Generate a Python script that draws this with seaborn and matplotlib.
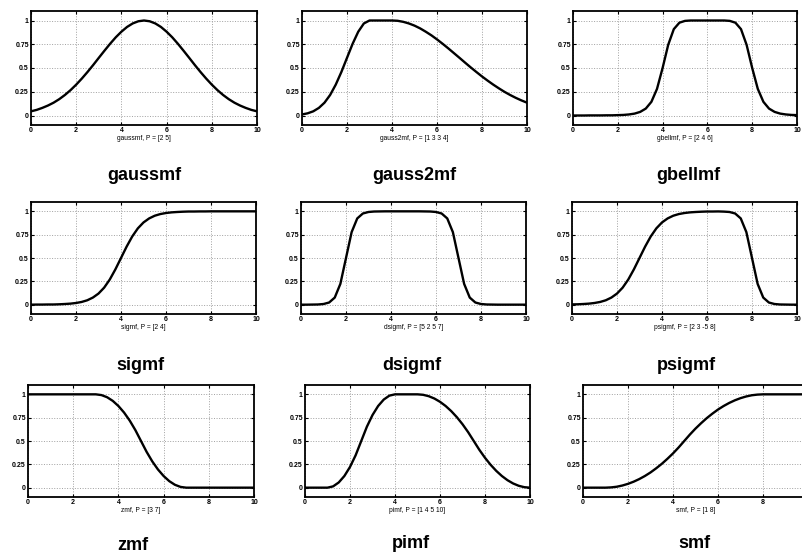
import matplotlib
matplotlib.use("Agg")
import matplotlib.pyplot as plt
import seaborn as sns
import pandas as pd

# sample positions
x_vals = [0.0, 0.25, 0.5, 0.75, 1.0, 1.25, 1.5, 1.75, 2.0, 2.25, 2.5, 2.75,
          3.0, 3.25, 3.5, 3.75, 4.0, 4.25, 4.5, 4.75, 5.0, 5.25, 5.5, 5.75,
          6.0, 6.25, 6.5, 6.75, 7.0, 7.25, 7.5, 7.75, 8.0, 8.25, 8.5, 8.75,
          9.0, 9.25, 9.5, 9.75, 10.0]

gaussmf = [0.044, 0.059, 0.080, 0.105, 0.135, 0.172, 0.216, 0.267, 0.325, 0.389,
           0.458, 0.531, 0.607, 0.682, 0.755, 0.823, 0.882, 0.932, 0.969, 0.992,
           1.000, 0.992, 0.969, 0.932, 0.882, 0.823, 0.755, 0.682, 0.607, 0.531,
           0.458, 0.389, 0.325, 0.267, 0.216, 0.172, 0.135, 0.105, 0.080, 0.059, 0.044]
gauss2mf = [0.011, 0.023, 0.044, 0.080, 0.135, 0.216, 0.325, 0.458, 0.607, 0.755,
            0.882, 0.969, 1.000, 1.000, 1.000, 1.000, 1.000, 0.997, 0.986, 0.969,
            0.946, 0.917, 0.882, 0.844, 0.801, 0.755, 0.707, 0.657, 0.607, 0.556,
            0.506, 0.458, 0.411, 0.367, 0.325, 0.286, 0.249, 0.216, 0.186, 0.159, 0.135]
gbellmf = [0.000, 0.000, 0.000, 0.001, 0.001, 0.001, 0.002, 0.002, 0.004, 0.006,
           0.011, 0.020, 0.038, 0.073, 0.144, 0.280, 0.500, 0.744, 0.909, 0.977,
           0.996, 1.000, 1.000, 1.000, 1.000, 1.000, 1.000, 1.000, 0.996, 0.977,
           0.909, 0.744, 0.500, 0.280, 0.144, 0.073, 0.038, 0.020, 0.011, 0.006, 0.004]
sigmf = [0.000, 0.001, 0.001, 0.002, 0.002, 0.004, 0.007, 0.011, 0.018, 0.029,
         0.047, 0.076, 0.119, 0.182, 0.269, 0.378, 0.500, 0.622, 0.731, 0.818,
         0.881, 0.924, 0.953, 0.971, 0.982, 0.989, 0.993, 0.996, 0.998, 0.998,
         0.999, 0.999, 1.000, 1.000, 1.000, 1.000, 1.000, 1.000, 1.000, 1.000, 1.000]
dsigmf = [0.000, 0.000, 0.001, 0.002, 0.007, 0.023, 0.076, 0.223, 0.500, 0.777,
          0.924, 0.977, 0.993, 0.998, 0.999, 1.000, 1.000, 1.000, 1.000, 1.000,
          1.000, 1.000, 0.999, 0.998, 0.993, 0.977, 0.924, 0.777, 0.500, 0.223,
          0.076, 0.023, 0.007, 0.002, 0.001, 0.000, 0.000, 0.000, 0.000, 0.000, 0.000]
psigmf = [0.003, 0.004, 0.007, 0.011, 0.018, 0.029, 0.047, 0.076, 0.119, 0.182,
          0.269, 0.378, 0.500, 0.622, 0.731, 0.818, 0.881, 0.924, 0.953, 0.971,
          0.982, 0.989, 0.993, 0.996, 0.998, 0.998, 0.999, 0.997, 0.993, 0.977,
          0.924, 0.777, 0.500, 0.223, 0.076, 0.023, 0.007, 0.002, 0.001, 0.000, 0.000]
zmf = [1.000, 1.000, 1.000, 1.000, 1.000, 1.000, 1.000, 1.000, 1.000, 1.000,
       1.000, 1.000, 1.000, 0.992, 0.969, 0.930, 0.875, 0.805, 0.719, 0.617,
       0.500, 0.383, 0.281, 0.195, 0.125, 0.070, 0.031, 0.008, 0.000, 0.000,
       0.000, 0.000, 0.000, 0.000, 0.000, 0.000, 0.000, 0.000, 0.000, 0.000, 0.000]
pimf = [0.000, 0.000, 0.000, 0.000, 0.000, 0.014, 0.056, 0.125, 0.222, 0.347,
        0.500, 0.653, 0.778, 0.875, 0.944, 0.986, 1.000, 1.000, 1.000, 1.000,
        1.000, 0.995, 0.980, 0.955, 0.920, 0.875, 0.820, 0.755, 0.680, 0.595,
        0.500, 0.405, 0.320, 0.245, 0.180, 0.125, 0.080, 0.045, 0.020, 0.005, 0.000]
smf = [0.000, 0.000, 0.000, 0.000, 0.000, 0.003, 0.010, 0.023, 0.041, 0.064,
       0.092, 0.125, 0.163, 0.207, 0.255, 0.309, 0.367, 0.431, 0.500, 0.569,
       0.633, 0.691, 0.745, 0.793, 0.837, 0.875, 0.908, 0.936, 0.959, 0.977,
       0.990, 0.997, 1.000, 1.000, 1.000, 1.000, 1.000, 1.000, 1.000, 1.000, 1.000]

names = ["gaussmf", "gauss2mf", "gbellmf", "sigmf", "dsigmf", "psigmf", "zmf", "pimf", "smf"]
params = ["[2 5]", "[1 3 3 4]", "[2 4 6]", "[2 4]", "[5 2 5 7]", "[2 3 -5 8]",
          "[3 7]", "[1 4 5 10]", "[1 8]"]
curves = [gaussmf, gauss2mf, gbellmf, sigmf, dsigmf, psigmf, zmf, pimf, smf]

x_ticks = [0, 2, 4, 6, 8, 10]
x_tick_labels = ["0", "2", "4", "6", "8", "10"]
y_ticks = [0, 0.25, 0.5, 0.75, 1]
y_tick_labels = ["0", "0.25", "0.5", "0.75", "1"]

sns.set_style("white")
plt.rcParams["font.family"] = ["Liberation Sans", "DejaVu Sans"]
plt.rcParams["text.color"] = "black"
plt.rcParams["axes.labelcolor"] = "black"
plt.rcParams["xtick.color"] = "black"
plt.rcParams["ytick.color"] = "black"

W, H = 803, 555
fig = plt.figure(figsize=(W / 100, H / 100), dpi=100)

# panel boxes in pixels: left, top, width, height
boxes = [
    (31, 11, 226, 114), (302, 11, 225, 114), (573, 11, 224, 114),
    (31, 202, 225, 112), (301, 202, 225, 112), (572, 202, 225, 112),
    (28, 385, 226, 112), (305, 385, 225, 112), (583, 385, 225, 112),
]
# big labels under each panel (pixel centres)
title_pos = [
    (144, 176), (414, 176), (688, 176),
    (140, 365), (412, 365), (686, 365),
    (133, 545), (411, 543), (694, 543),
]

for i, name in enumerate(names):
    l, t, w, h = boxes[i]
    ax = fig.add_axes([l / W, 1 - (t + h) / H, w / W, h / H])
    df = pd.DataFrame({"x": x_vals, "y": curves[i]})
    sns.lineplot(data=df, x="x", y="y", ax=ax, color="black", linewidth=1.7)

    ax.set_xlim(0, 10)
    ax.set_ylim(-0.1, 1.1)
    ax.set_xticks(x_ticks)
    labels = list(x_tick_labels)
    if name == "smf":
        # the last panel runs off the right edge, its "10" is not in view
        labels[-1] = ""
    ax.set_xticklabels(labels, fontsize=5, fontweight="bold")
    ax.set_yticks(y_ticks)
    ax.set_yticklabels(y_tick_labels, fontsize=5, fontweight="bold")
    ax.tick_params(direction="in", length=2.5, width=0.8, pad=1.5,
                   top=True, right=True, bottom=True, left=True)
    ax.grid(True, linestyle=":", color="#a0a0a0", linewidth=0.7)
    for s in ax.spines.values():
        s.set_visible(True)
        s.set_color("black")
        s.set_linewidth(1.3)
    ax.set_xlabel(f"{name}, P = {params[i]}", fontsize=4.8, labelpad=0.5)
    ax.set_ylabel("")

    tx, ty = title_pos[i]
    fig.text(tx / W, 1 - ty / H, name, ha="center", va="center",
             fontsize=13, fontweight="bold", color="black")

plt.savefig("out.png", dpi=100)
